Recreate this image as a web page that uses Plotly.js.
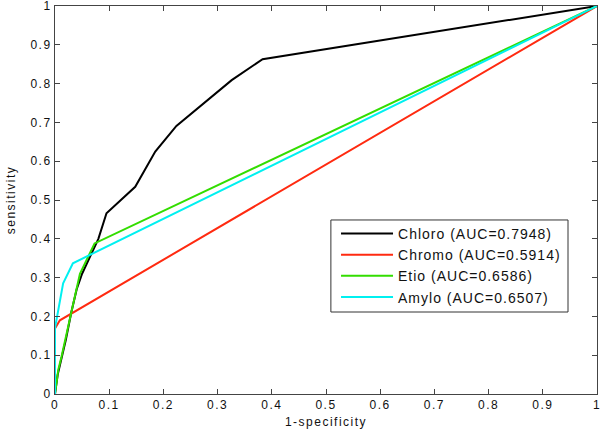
<!DOCTYPE html>
<html>
<head>
<meta charset="utf-8">
<script src="https://cdn.plot.ly/plotly-3.0.1.min.js"></script>
<style>
html,body{margin:0;padding:0;background:#fff;}
#chart{width:600px;height:434px;}
#chart .xtick text, #chart .ytick text, #chart .xtitle, #chart .ytitle {letter-spacing:1.5px;}
#chart .legendtext {letter-spacing:1px;}
#chart .legend .scrollbox {clip-path:none !important;}
</style>
</head>
<body>
<div id="chart"></div>
<script>
var seriesNames = ["Chloro (AUC=0.7948)", "Chromo (AUC=0.5914)", "Etio (AUC=0.6586)", "Amylo (AUC=0.6507)"];
var seriesColors = ["#000000", "#ff2a10", "#33dd00", "#00f0f0"];

var chloroX = [0, 0.005, 0.01, 0.02, 0.03, 0.04, 0.05, 0.06, 0.07, 0.08, 0.095, 0.148, 0.185, 0.224, 0.326, 0.383, 1];
var chloroY = [0, 0.05, 0.08, 0.14, 0.21, 0.27, 0.31, 0.34, 0.37, 0.40, 0.466, 0.534, 0.625, 0.691, 0.809, 0.863, 1];

var chromoX = [0, 0, 0.009, 1];
var chromoY = [0, 0.169, 0.19, 1];

var etioX = [0, 0.006, 0.012, 0.02, 0.031, 0.046, 0.061, 0.073, 1];
var etioY = [0, 0.062, 0.096, 0.15, 0.216, 0.31, 0.354, 0.388, 1];

var amyloX = [0, 0, 0.015, 0.033, 1];
var amyloY = [0, 0.17, 0.285, 0.337, 1];

var xTicks = [0, 0.1, 0.2, 0.3, 0.4, 0.5, 0.6, 0.7, 0.8, 0.9, 1];
var yTicks = [0, 0.1, 0.2, 0.3, 0.4, 0.5, 0.6, 0.7, 0.8, 0.9, 1];
var xTitle = "1-specificity";
var yTitle = "sensitivity";

var xs = [chloroX, chromoX, etioX, amyloX];
var ys = [chloroY, chromoY, etioY, amyloY];

var traces = seriesNames.map(function(n, i) {
  return {x: xs[i], y: ys[i], type: "scatter", mode: "lines", name: n,
          line: {color: seriesColors[i], width: 2}};
});

var fam = "Liberation Sans, Arial, sans-serif";
var axisCommon = {
  showgrid: false, zeroline: false, showline: true, linecolor: "#444", linewidth: 1,
  mirror: "ticks", ticks: "inside", ticklen: 5, tickcolor: "#444",
  ticklabeloverflow: "allow",
  tickfont: {family: fam, size: 12, color: "#111"}
};

var layout = {
  width: 600, height: 434,
  margin: {l: 55, r: 3, t: 6, b: 40},
  paper_bgcolor: "#fff", plot_bgcolor: "#fff",
  showlegend: true,
  font: {family: fam, size: 12, color: "#111"},
  xaxis: Object.assign({}, axisCommon, {
    range: [0, 1], tickvals: xTicks, ticktext: xTicks.map(String),
    title: {text: xTitle, font: {size: 12}, standoff: 6}
  }),
  yaxis: Object.assign({}, axisCommon, {
    range: [0, 1], tickvals: yTicks, ticktext: yTicks.map(String),
    title: {text: yTitle, font: {size: 12}, standoff: 16}
  }),
  legend: {
    x: 0.5185, y: 0.454, xanchor: "left", yanchor: "top",
    bgcolor: "rgba(0,0,0,0)", borderwidth: 0,
    itemwidth: 52, tracegroupgap: 0,
    font: {family: fam, size: 14, color: "#111"}
  },
  shapes: [{
    type: "rect", xref: "paper", yref: "paper",
    x0: 0.509, x1: 0.9465, y0: 0.2113, y1: 0.4485,
    line: {color: "#333", width: 1}, fillcolor: "#fff", layer: "above"
  }]
};

Plotly.newPlot("chart", traces, layout, {displayModeBar: false, staticPlot: true});
</script>
</body>
</html>
